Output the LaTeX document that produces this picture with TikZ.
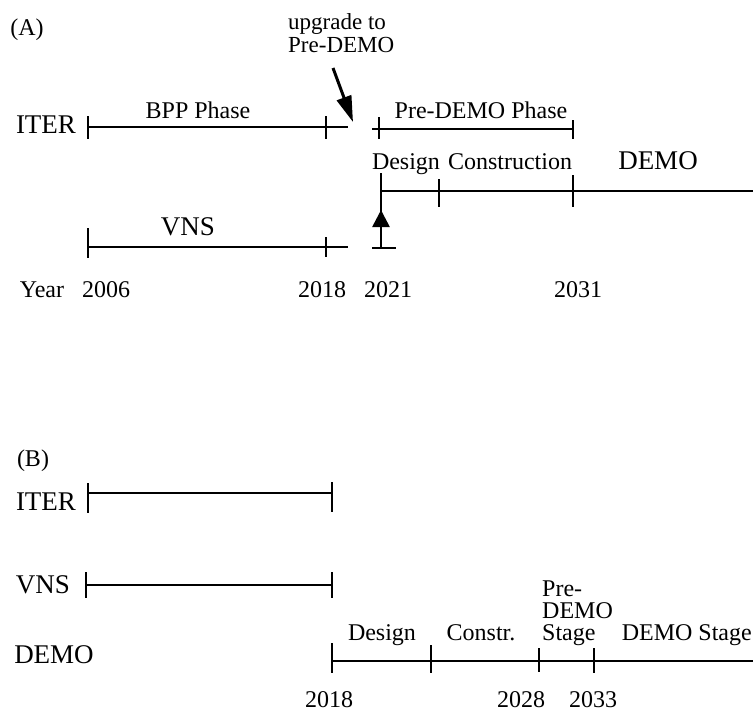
\documentclass[tikz,border=0pt]{standalone}
\usepackage{fontspec}
\setmainfont{Liberation Serif}
\usetikzlibrary{arrows.meta,positioning,calc}

\begin{document}
\begin{tikzpicture}[x=1pt,y=-1pt,>=Latex,
  every node/.style={font=\fontsize{24}{21}\selectfont,inner sep=0pt},
  big/.style={font=\fontsize{27}{27}\selectfont},
  tl/.style={line width=2.7pt},
  tk/.style={line width=2.4pt}]
\useasboundingbox (0,0) rectangle (753,713);
% (A) ITER / VNS / DEMO timeline
\node[anchor=base] (pa) at (27,35) {(A)};
\node[anchor=base west,align=left,font=\fontsize{23}{23}\selectfont] (upg) at (288,52) {upgrade to\\Pre-DEMO};
\node[big,anchor=base] (iterA) at (46,133) {ITER};
\node[anchor=base] (bpp) at (198,118) {BPP Phase};
\node[anchor=base] (pdp) at (481,118) {Pre-DEMO Phase};
\node[anchor=base] (desA) at (406,169) {Design};
\node[anchor=base] (conA) at (510,169) {Construction};
\node[big,anchor=base] (demA) at (658,169) {DEMO};
\node[big,anchor=base] (vnsA) at (188,235) {VNS};
\node[anchor=base] (yr) at (42,297) {Year};
\node[anchor=base] (y06) at (106,297) {2006};
\node[anchor=base] (y18A) at (322,297) {2018};
\node[anchor=base] (y21) at (388,297) {2021};
\node[anchor=base] (y31) at (578,297) {2031};
\coordinate (iA0) at (88,127);  \coordinate (iA1) at (348,127);
\coordinate (pd0) at (372,129); \coordinate (pd1) at (573,129);
\coordinate (dA0) at (380,191); \coordinate (dA1) at (760,191);
\coordinate (vA0) at (88,247);  \coordinate (vA1) at (348,247);
\coordinate (ut) at (333,68);   \coordinate (uh) at (353,122);
\coordinate (st) at (381,248);  \coordinate (sh) at (381,210);
\draw[tl] (iA0)--(iA1);
\draw[tl] (pd0)--(pd1);
\draw[tl] (dA0)--(dA1);
\draw[tl] (vA0)--(vA1);
\foreach \x/\a/\b in {88/116/139,326/116/139,379/117/139,573/120/139,
  439/179/207,573/175/207,88/228/258,326/237/257}
  \draw[tk] (\x,\a)--(\x,\b);
\draw[tl] (381,173)--(st);
\draw[tl] (372,248)--(396,248);
\draw[line width=3pt,-{Triangle[length=26pt,width=15pt]}] (ut)--(uh);
\draw[line width=2.6pt,-{Triangle[length=17pt,width=17pt]}] (st)--(sh);
% (B)
\node[anchor=base] (pb) at (33,466) {(B)};
\node[big,anchor=base] (iterB) at (46,510) {ITER};
\node[big,anchor=base] (vnsB) at (43,593) {VNS};
\node[big,anchor=base] (demB) at (54,663) {DEMO};
\node[anchor=base] (desB) at (382,640) {Design};
\node[anchor=base] (conB) at (481,640) {Constr.};
\node[anchor=base west,align=left] (pds) at (542,640) {Pre-\\[1pt]DEMO\\[1pt]Stage};
\node[anchor=base east] (dst) at (752,640) {DEMO Stage};
\node[anchor=base] (y18B) at (329,707) {2018};
\node[anchor=base] (y28) at (521,707) {2028};
\node[anchor=base] (y33) at (593,707) {2033};
\coordinate (iB0) at (88,493);  \coordinate (iB1) at (332,493);
\coordinate (vB0) at (86,585);  \coordinate (vB1) at (332,585);
\coordinate (dB0) at (332,661); \coordinate (dB1) at (760,661);
\draw[tl] (iB0)--(iB1);
\draw[tl] (vB0)--(vB1);
\draw[tl] (dB0)--(dB1);
\foreach \x/\a/\b in {88/483/513,332/482/512,86/572/598,332/572/598,
  332/643/673,431/645/673,539/648/672,594/648/673}
  \draw[tk] (\x,\a)--(\x,\b);
\end{tikzpicture}
\end{document}
